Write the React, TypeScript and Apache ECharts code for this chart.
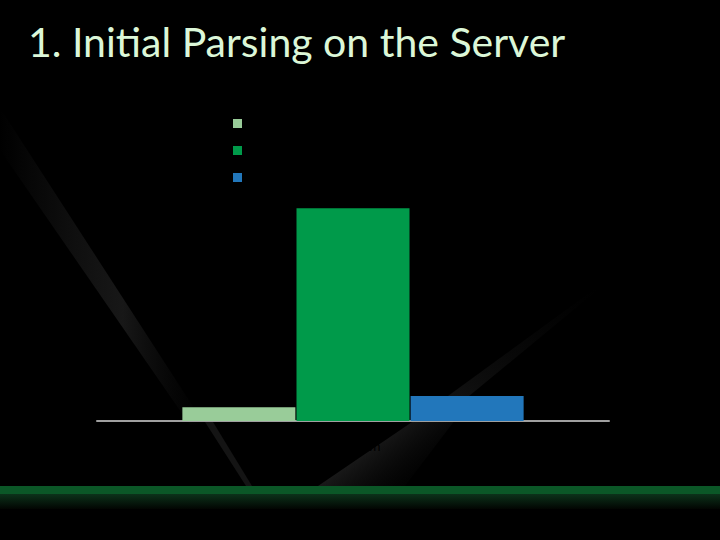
import React, { useEffect, useRef } from "react";
import * as echarts from "echarts";

const categories = ["Unknown"];
const seriesNames = ["Small", "Large", "Medium"];
const seriesValues = [13, 200, 23.5];
const seriesColors = ["#99cc99", "#009a4a", "#2277bb"];
const titleText = "1. Initial Parsing on the Server";

export default function App() {
  const ref = useRef<HTMLDivElement>(null);
  useEffect(() => {
    if (!ref.current) return;
    const chart = echarts.init(ref.current, null, { renderer: "svg" });
    chart.setOption({
      animation: false,
      backgroundColor: "#000000",
      title: {
        text: titleText,
        left: 23,
        top: 16,
        textStyle: { color: "#dcf7d8", fontFamily: "Lato", fontSize: 41, fontWeight: "normal" },
      },
      graphic: [
        {
          type: "polygon",
          silent: true,
          z: -10,
          shape: { points: [[0, 108], [0, 150], [190, 425], [205, 425]] },
          style: {
            fill: new echarts.graphic.LinearGradient(0, 0, 1, 0, [
              { offset: 0, color: "rgba(30,30,30,0)" },
              { offset: 0.6, color: "rgba(26,26,26,0.9)" },
              { offset: 1, color: "rgba(10,10,10,0)" },
            ]),
          },
        },
        {
          type: "polygon",
          silent: true,
          z: -10,
          shape: { points: [[205, 422], [213, 422], [252, 486], [246, 486]] },
          style: { fill: "rgba(22,22,22,0.9)" },
        },
        {
          type: "polygon",
          silent: true,
          z: -10,
          shape: { points: [[318, 486], [415, 420], [455, 420], [405, 486]] },
          style: {
            fill: new echarts.graphic.LinearGradient(0, 0, 1, 0.6, [
              { offset: 0, color: "rgba(90,90,90,0.9)" },
              { offset: 0.35, color: "rgba(55,55,55,0.6)" },
              { offset: 1, color: "rgba(15,15,15,0)" },
            ]),
          },
        },
        {
          type: "polygon",
          silent: true,
          z: -10,
          shape: { points: [[415, 420], [440, 420], [600, 288], [596, 288]] },
          style: {
            fill: new echarts.graphic.LinearGradient(0, 1, 1, 0, [
              { offset: 0, color: "rgba(40,40,40,0.6)" },
              { offset: 1, color: "rgba(15,15,15,0)" },
            ]),
          },
        },
        {
          type: "rect",
          silent: true,
          z: -5,
          shape: { x: 0, y: 486, width: 720, height: 8 },
          style: { fill: "#0b5727" },
        },
        {
          type: "rect",
          silent: true,
          z: -5,
          shape: { x: 0, y: 494, width: 720, height: 15 },
          style: {
            fill: new echarts.graphic.LinearGradient(0, 0, 0, 1, [
              { offset: 0, color: "#0c321a" },
              { offset: 1, color: "#020502" },
            ]),
          },
        },
      ],
      legend: {
        orient: "vertical",
        left: 228,
        top: 112,
        itemWidth: 9,
        itemHeight: 9,
        itemGap: 14,
        icon: "rect",
        data: seriesNames,
        textStyle: { color: "#000000", fontSize: 13, fontFamily: "Lato" },
      },
      grid: { left: 97, right: 111, top: 155, bottom: 119 },
      xAxis: {
        type: "category",
        data: categories,
        axisLine: { lineStyle: { color: "#a0a0a0", width: 2 } },
        axisTick: { show: false },
        axisLabel: { color: "#000000", fontSize: 13, margin: 18, fontFamily: "Lato" },
      },
      yAxis: {
        type: "value",
        min: 0,
        max: 250,
        show: false,
        splitLine: { show: false },
      },
      series: seriesNames.map((name, i) => ({
        name,
        type: "bar",
        data: [seriesValues[i]],
        barWidth: 113,
        barGap: "1%",
        itemStyle: { color: seriesColors[i] },
      })),
    });
    return () => chart.dispose();
  }, []);
  return <div ref={ref} style={{ width: 720, height: 540, position: "fixed", left: 0, top: 0 }} />;
}
